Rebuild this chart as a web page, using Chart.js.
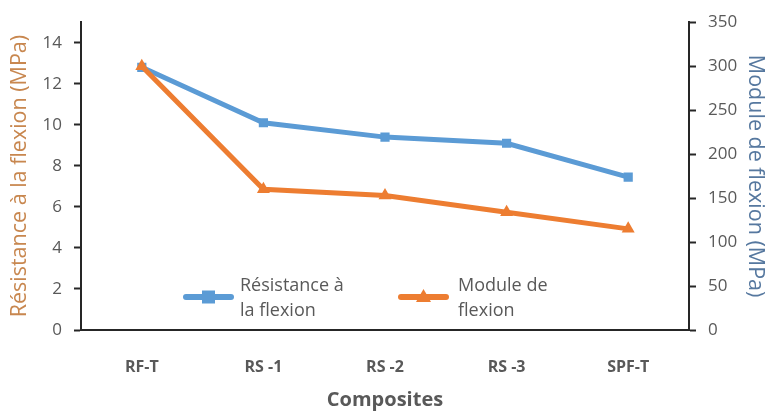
<!DOCTYPE html>
<html>
<head>
<meta charset="utf-8">
<script src="https://cdn.jsdelivr.net/npm/chart.js@4/dist/chart.umd.min.js"></script>
<style>
  html, body { margin: 0; padding: 0; background: #fff; }
  #wrap { width: 774px; height: 412px; position: relative; }
</style>
</head>
<body>
<div id="wrap"><canvas id="c" width="774" height="412"></canvas></div>
<script>
// Composite samples and their flexural properties
const categories = ['RF-T', 'RS -1', 'RS -2', 'RS -3', 'SPF-T'];
const resistance = [12.8, 10.1, 9.4, 9.1, 7.45];   // MPa, left axis
const modulus = [300, 160, 153, 134, 115];          // MPa, right axis
const resistanceLabel = ['Résistance à', 'la flexion'];
const modulusLabel = ['Module de', 'flexion'];

const BLUE = '#5B9BD5';
const ORANGE = '#ED7D31';
const GREY = '#595959';
const FONT = '"Open Sans", sans-serif';

// Two-line legend drawn inside the plot area, near the bottom
const innerLegend = {
  id: 'innerLegend',
  afterDraw(chart) {
    const ctx = chart.ctx;
    const items = [
      { x: 186, text: resistanceLabel, color: BLUE, marker: 'rect', tx: 240 },
      { x: 401, text: modulusLabel, color: ORANGE, marker: 'triangle', tx: 458 }
    ];
    const y = 297;
    ctx.save();
    items.forEach(it => {
      ctx.strokeStyle = it.color;
      ctx.lineWidth = 6;
      ctx.lineCap = 'round';
      ctx.beginPath();
      ctx.moveTo(it.x, y);
      ctx.lineTo(it.x + 45, y);
      ctx.stroke();
      ctx.fillStyle = it.color;
      const cx = it.x + 22.5;
      if (it.marker === 'rect') {
        ctx.fillRect(cx - 6.5, y - 6.5, 13, 13);
      } else {
        ctx.beginPath();
        ctx.moveTo(cx, y - 8);
        ctx.lineTo(cx + 7.5, y + 5);
        ctx.lineTo(cx - 7.5, y + 5);
        ctx.closePath();
        ctx.fill();
      }
      ctx.fillStyle = GREY;
      ctx.font = '18px ' + FONT;
      ctx.textBaseline = 'middle';
      ctx.textAlign = 'left';
      ctx.fillText(it.text[0], it.tx, y - 11);
      ctx.fillText(it.text[1], it.tx, y + 14);
    });
    ctx.restore();
  }
};

new Chart(document.getElementById('c'), {
  type: 'line',
  data: {
    labels: categories,
    datasets: [
      {
        label: resistanceLabel.join(' '),
        data: resistance,
        yAxisID: 'y',
        borderColor: BLUE,
        backgroundColor: BLUE,
        borderWidth: 5,
        pointStyle: 'rect',
        pointRadius: 6.5,
        pointBorderWidth: 0,
        order: 1
      },
      {
        label: modulusLabel.join(' '),
        data: modulus,
        yAxisID: 'y1',
        borderColor: ORANGE,
        backgroundColor: ORANGE,
        borderWidth: 5,
        pointStyle: 'triangle',
        pointRadius: 7.5,
        pointBorderWidth: 0,
        order: 0
      }
    ]
  },
  options: {
    responsive: false,
    animation: false,
    layout: { padding: { top: 22, left: 0, right: 0, bottom: 0 } },
    plugins: { legend: { display: false }, tooltip: { enabled: false } },
    scales: {
      x: {
        offset: true,
        grid: { display: false },
        border: { display: true, color: '#262626', width: 2 },
        ticks: { color: GREY, font: { family: FONT, size: 16, weight: 'bold' }, padding: 20 },
        title: {
          display: true, text: 'Composites', color: GREY,
          font: { family: FONT, size: 20, weight: 'bold' },
          padding: { top: 10, bottom: 0 }
        },
        afterFit(s) { s.height = 82; }
      },
      y: {
        position: 'left',
        min: 0, max: 15,
        afterBuildTicks(s) { s.ticks = [0, 2, 4, 6, 8, 10, 12, 14].map(v => ({ value: v })); },
        grid: { display: true, drawOnChartArea: false, drawTicks: true, tickLength: 7, tickColor: '#262626', tickWidth: 2 },
        border: { display: true, color: '#262626', width: 2 },
        ticks: { color: GREY, font: { family: FONT, size: 17 }, padding: 12 },
        title: {
          display: true, text: 'Résistance à la flexion (MPa)', color: '#C8874F',
          font: { family: FONT, size: 21.5 }, padding: { top: 7, bottom: 4 }
        },
        afterFit(s) { s.width = 81; }
      },
      y1: {
        position: 'right',
        min: 0, max: 350,
        afterBuildTicks(s) { s.ticks = [0, 50, 100, 150, 200, 250, 300, 350].map(v => ({ value: v })); },
        grid: { display: true, drawOnChartArea: false, drawTicks: true, tickLength: 7, tickColor: '#262626', tickWidth: 2 },
        border: { display: true, color: '#262626', width: 2 },
        ticks: { color: GREY, font: { family: FONT, size: 17 }, padding: 12 },
        title: {
          display: true, text: 'Module de flexion (MPa)', color: '#56789F',
          font: { family: FONT, size: 21.5 }, padding: { top: 6, bottom: 4 }
        },
        afterFit(s) { s.width = 85; }
      }
    }
  },
  plugins: [innerLegend]
});
</script>
</body>
</html>
